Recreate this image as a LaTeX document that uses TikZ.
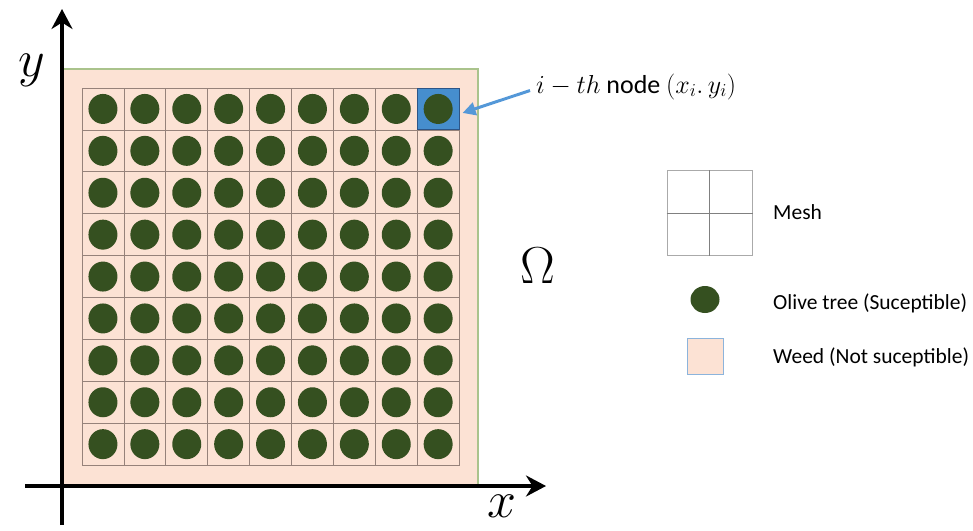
\RequirePackage{fix-cm}
\documentclass[tikz,border=0pt]{standalone}
\usepackage[no-math]{fontspec}
\setmainfont{Carlito}
\usetikzlibrary{arrows.meta,shapes.geometric}
\definecolor{weed}{RGB}{252,226,212}
\definecolor{olivetree}{RGB}{53,80,32}
\definecolor{meshline}{RGB}{150,130,122}
\definecolor{hiblue}{RGB}{70,142,206}
\definecolor{hiborder}{RGB}{45,85,135}
\definecolor{arrowblue}{RGB}{84,152,216}
\definecolor{fieldedge}{RGB}{170,195,140}
\definecolor{legendgray}{RGB}{170,170,170}
\definecolor{weedborder}{RGB}{140,180,220}
\begin{document}
\begin{tikzpicture}[x=1pt,y=-1pt,
  cell/.style={draw=meshline, line width=0.7pt, minimum size=41.9pt, inner sep=0pt},
  tree/.style={ellipse, fill=olivetree, draw=none, minimum width=29pt, minimum height=30pt, inner sep=0pt},
  axis/.style={line width=3.8pt, black},
  lbl/.style={font=\fontsize{21.5}{26}\selectfont, inner sep=0pt, anchor=base west},
  big/.style={font=\fontsize{52}{60}\selectfont, inner sep=0pt}]
\useasboundingbox (0,0) rectangle (973,530);
% field
\fill[weed] (62,69) rectangle (478,484);
\draw[fieldedge, line width=1.2pt] (62,69) -- (478,69) -- (478,484);
% mesh cells
\foreach \i in {1,...,9}{
  \foreach \j in {1,...,9}{
    \node[cell] (cell-\i-\j) at ({82+41.9*(\i-0.5)},{88+41.9*(\j-0.5)}) {};
  }
}
% highlighted node
\node[cell, fill=hiblue, draw=hiborder, line width=1pt] (hi) at ({82+41.9*8.5},{88+41.9*0.5}) {};
% olive trees
\foreach \i in {1,...,9}{
  \foreach \j in {1,...,9}{
    \node[tree] (tree-\i-\j) at (cell-\i-\j) {};
  }
}
% axes
\coordinate (ytop) at (62,9);
\coordinate (ybot) at (62,525);
\coordinate (xleft) at (25,486);
\coordinate (xright) at (546,486);
\draw[axis, -{Stealth[length=20pt,width=21pt]}] (ybot) -- (ytop);
\draw[axis, -{Stealth[length=20pt,width=21pt]}] (xleft) -- (xright);
\node[big] (ylab) at (32,70) {$y$};
\node[big] (xlab) at (502,506) {$x$};
\node[big] (omega) at (538,266) {$\Omega$};
% label and arrow
\node[lbl, font=\fontsize{26}{30}\selectfont] (nodelbl) at (536,93) {$i-th$ node $(x_i.\,y_i)$};
\coordinate (tip) at ([shift={(3,4)}]hi.east);
\draw[arrowblue, line width=3pt, -{Triangle[length=13pt,width=13pt]}] ([xshift=-6pt,yshift=-4pt]nodelbl.west) -- (tip);
% legend
\node[draw=legendgray, line width=1pt, minimum size=85pt, inner sep=0pt] (mesh) at (709.5,213) {};
\draw[gray, line width=0.8pt] (mesh.north) -- (mesh.south) (mesh.west) -- (mesh.east);
\node[lbl] (meshlbl) at (773,219.5) {Mesh};
\node[ellipse, fill=olivetree, minimum width=29pt, minimum height=27pt, inner sep=0pt] (legtree) at (705,299.5) {};
\node[lbl] (treelbl) at (773,309) {Olive tree (Suceptible)};
\node[fill=weed, draw=weedborder, line width=0.8pt, minimum size=36pt, inner sep=0pt] (legweed) at (705.5,356) {};
\node[lbl] (weedlbl) at (773,363) {Weed (Not suceptible)};
\end{tikzpicture}
\end{document}
